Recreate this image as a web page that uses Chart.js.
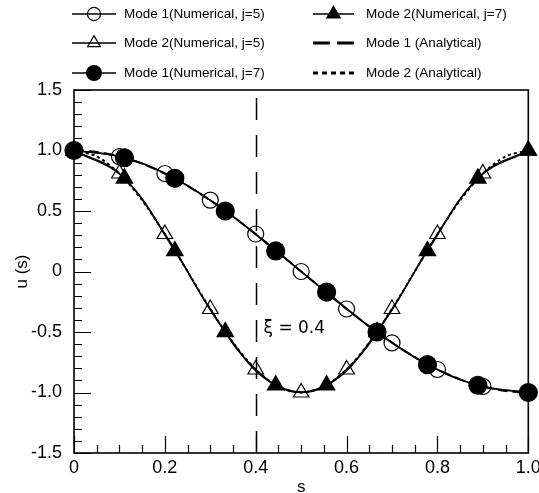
<!DOCTYPE html>
<html>
<head>
<meta charset="utf-8">
<script src="https://cdn.jsdelivr.net/npm/chart.js@4.4.1/dist/chart.umd.min.js"></script>
<style>
  html, body { margin: 0; padding: 0; background: #fff; }
  #wrap { width: 539px; height: 493px; }
</style>
</head>
<body>
<div id="wrap"><canvas id="modeChart" width="539" height="493"></canvas></div>
<script>
// numerical, j=5 (11 nodes)
const sJ5 = [0, 0.1, 0.2, 0.3, 0.4, 0.5, 0.6, 0.7, 0.8, 0.9, 1.0];
const mode1J5 = [1.0, 0.95, 0.81, 0.59, 0.31, 0.0, -0.31, -0.59, -0.81, -0.95, -1.0];
const mode2J5 = [1.0, 0.81, 0.31, -0.31, -0.81, -1.0, -0.81, -0.31, 0.31, 0.81, 1.0];

// numerical, j=7 (10 nodes)
const sJ7 = [0, 0.111, 0.222, 0.333, 0.444, 0.556, 0.667, 0.778, 0.889, 1.0];
const mode1J7 = [1.0, 0.94, 0.77, 0.5, 0.17, -0.17, -0.5, -0.77, -0.94, -1.0];
const mode2J7 = [1.0, 0.77, 0.17, -0.5, -0.94, -0.94, -0.5, 0.17, 0.77, 1.0];

// analytical curves
const sExact = [0, 0.05, 0.1, 0.15, 0.2, 0.25, 0.3, 0.35, 0.4, 0.45, 0.5,
                0.55, 0.6, 0.65, 0.7, 0.75, 0.8, 0.85, 0.9, 0.95, 1.0];
const mode1Exact = [1.0, 0.988, 0.951, 0.891, 0.809, 0.707, 0.588, 0.454, 0.309, 0.156, 0.0,
                    -0.156, -0.309, -0.454, -0.588, -0.707, -0.809, -0.891, -0.951, -0.988, -1.0];
const mode2Exact = [1.0, 0.951, 0.809, 0.588, 0.309, 0.0, -0.309, -0.588, -0.809, -0.951, -1.0,
                    -0.951, -0.809, -0.588, -0.309, 0.0, 0.309, 0.588, 0.809, 0.951, 1.0];

const xTicks = [0, 0.2, 0.4, 0.6, 0.8, 1.0];
const xTickLabels = ['0', '0.2', '0.4', '0.6', '0.8', '1.0'];
const yTicks = [-1.5, -1.0, -0.5, 0, 0.5, 1.0, 1.5];
const yTickLabels = ['-1.5', '-1.0', '-0.5', '0', '0.5', '1.0', '1.5'];

const xi = 0.4;
const xiLabel = 'ξ = 0.4';

const pts = (xs, ys) => xs.map((x, i) => ({ x: x, y: ys[i] }));

const mkNum = (label, xs, ys, style, filled, r) => ({
  label: label,
  data: pts(xs, ys),
  showLine: true,
  borderColor: '#000',
  borderWidth: 1.5,
  tension: 0.4,
  pointStyle: style,
  pointRadius: r,
  pointHoverRadius: r,
  pointBorderWidth: 1.2,
  pointBorderColor: '#000',
  pointBackgroundColor: filled ? '#000' : 'rgba(0,0,0,0)',
  clip: false
});

const mkExact = (label, ys, dash) => ({
  label: label,
  data: pts(sExact, ys),
  showLine: true,
  borderColor: '#000',
  borderWidth: 2,
  borderDash: dash,
  tension: 0.3,
  pointRadius: 0,
  pointHoverRadius: 0,
  clip: false
});

// first dataset is drawn on top
const datasets = [
  mkNum('Mode 1(Numerical, j=7)', sJ7, mode1J7, 'circle', true, 9),
  mkNum('Mode 2(Numerical, j=7)', sJ7, mode2J7, 'triangle', true, 9.5),
  mkNum('Mode 1(Numerical, j=5)', sJ5, mode1J5, 'circle', false, 8),
  mkNum('Mode 2(Numerical, j=5)', sJ5, mode2J5, 'triangle', false, 9),
  mkExact('Mode 1 (Analytical)', mode1Exact, [10, 5]),
  mkExact('Mode 2 (Analytical)', mode2Exact, [3, 3])
];

// legend slots: dataset index, row y, column
const legendSlots = [
  { ds: 2, x: 72, len: 44, tx: 124, y: 14 },
  { ds: 3, x: 72, len: 44, tx: 124, y: 43 },
  { ds: 0, x: 72, len: 44, tx: 124, y: 73 },
  { ds: 1, x: 313, len: 41, tx: 366, y: 14 },
  { ds: 4, x: 313, len: 41, tx: 366, y: 43, dash: [17, 7], lw: 3 },
  { ds: 5, x: 313, len: 41, tx: 366, y: 73, dash: [5, 4], lw: 3 }
];

const legendPlugin = {
  id: 'modeLegend',
  afterDraw(chart) {
    const ctx = chart.ctx;
    ctx.save();
    legendSlots.forEach(slot => {
      const ds = chart.data.datasets[slot.ds];
      ctx.strokeStyle = '#000';
      ctx.lineWidth = slot.lw || 1.5;
      ctx.setLineDash(slot.dash || []);
      ctx.beginPath();
      ctx.moveTo(slot.x, slot.y);
      ctx.lineTo(slot.x + slot.len, slot.y);
      ctx.stroke();
      ctx.setLineDash([]);
      if (ds.pointRadius > 0) {
        ctx.fillStyle = ds.pointBackgroundColor;
        ctx.lineWidth = ds.pointBorderWidth;
        Chart.helpers.drawPoint(ctx, {
          pointStyle: ds.pointStyle,
          radius: ds.pointRadius * 0.82,
          borderWidth: ds.pointBorderWidth,
          rotation: 0
        }, slot.x + slot.len / 2, slot.y);
      }
      ctx.fillStyle = '#000';
      ctx.font = '13.5px "Liberation Sans", Arial, sans-serif';
      ctx.textAlign = 'left';
      ctx.textBaseline = 'middle';
      ctx.fillText(ds.label, slot.tx, slot.y);
    });
    ctx.restore();
  }
};

// frame, inward ticks and the xi marker
const framePlugin = {
  id: 'frame',
  beforeDatasetsDraw(chart) {
    const { ctx, chartArea: a, scales } = chart;
    const xs = scales.x, ys = scales.y;
    ctx.save();
    ctx.strokeStyle = '#000';
    ctx.lineWidth = 1.2;
    ctx.beginPath();
    for (let v = 0; v <= 1.0001; v += 0.05) {
      const px = Math.round(xs.getPixelForValue(v)) + 0.5;
      const major = Math.abs(v * 5 - Math.round(v * 5)) < 1e-6;
      ctx.moveTo(px, a.bottom);
      ctx.lineTo(px, a.bottom - (major ? 17 : 8));
    }
    for (let v = -1.5; v <= 1.5001; v += 0.1) {
      const py = Math.round(ys.getPixelForValue(v)) + 0.5;
      const major = Math.abs(v * 2 - Math.round(v * 2)) < 1e-6;
      ctx.moveTo(a.left, py);
      ctx.lineTo(a.left + (major ? 17 : 8), py);
    }
    ctx.stroke();

    ctx.lineWidth = 1.6;
    ctx.strokeRect(a.left, a.top, a.right - a.left, a.bottom - a.top);

    const xp = Math.round(xs.getPixelForValue(xi)) + 0.5;
    ctx.lineWidth = 1.5;
    ctx.setLineDash([22, 15]);
    ctx.beginPath();
    ctx.moveTo(xp, a.top + 8);
    ctx.lineTo(xp, a.bottom);
    ctx.stroke();
    ctx.setLineDash([]);

    ctx.fillStyle = '#000';
    ctx.font = '17px "DejaVu Sans", sans-serif';
    ctx.textAlign = 'left';
    ctx.textBaseline = 'middle';
    ctx.fillText(xiLabel, xp + 7, ys.getPixelForValue(-0.47));
    ctx.restore();
  }
};

const tickFont = { family: '"Liberation Sans", Arial, sans-serif', size: 18 };

new Chart(document.getElementById('modeChart'), {
  type: 'scatter',
  data: { datasets: datasets },
  options: {
    responsive: false,
    animation: false,
    devicePixelRatio: 1,
    layout: { padding: { left: 0, right: 9, top: 90, bottom: 0 } },
    plugins: {
      legend: { display: false },
      tooltip: { enabled: false }
    },
    scales: {
      x: {
        type: 'linear',
        min: 0,
        max: 1,
        afterBuildTicks: s => { s.ticks = xTicks.map(v => ({ value: v })); },
        afterFit: s => { s.height = 40; s.paddingLeft = 0; s.paddingRight = 0; },
        grid: { display: false, drawTicks: false },
        border: { display: false },
        ticks: {
          color: '#000',
          font: tickFont,
          padding: 4,
          maxRotation: 0,
          callback: (v, i) => xTickLabels[i]
        },
        title: {
          display: true,
          text: 's',
          color: '#000',
          font: { family: '"Liberation Sans", Arial, sans-serif', size: 17, lineHeight: 1 },
          padding: { top: 0, bottom: -3 }
        }
      },
      y: {
        type: 'linear',
        min: -1.5,
        max: 1.5,
        afterBuildTicks: s => { s.ticks = yTicks.map(v => ({ value: v })); },
        afterFit: s => { s.width = 74; s.paddingTop = 0; s.paddingBottom = 0; },
        grid: { display: false, drawTicks: false },
        border: { display: false },
        ticks: {
          color: '#000',
          font: tickFont,
          padding: 12,
          callback: (v, i) => yTickLabels[i]
        },
        title: {
          display: true,
          text: 'u (s)',
          color: '#000',
          font: { family: '"Liberation Sans", Arial, sans-serif', size: 17 },
          padding: { top: 12, bottom: 0 }
        }
      }
    }
  },
  plugins: [framePlugin, legendPlugin]
});
</script>
</body>
</html>
